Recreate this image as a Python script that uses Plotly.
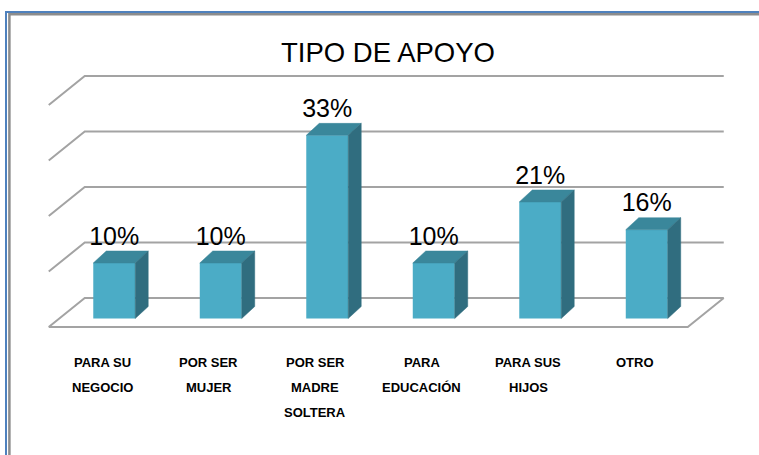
import plotly.graph_objects as go

# ---------------- data ----------------
category_lines = [
    ["PARA SU", "NEGOCIO"],
    ["POR SER", "MUJER"],
    ["POR SER", "MADRE", "SOLTERA"],
    ["PARA", "EDUCACIÓN"],
    ["PARA SUS", "HIJOS"],
    ["OTRO"],
]
values = [10, 10, 33, 10, 21, 16]
value_labels = ["10%", "10%", "33%", "10%", "21%", "16%"]
grid_ticks = [0, 10, 20, 30, 40]
title_text = "TIPO DE APOYO"

# ---------------- geometry / style ----------------
W, H = 759, 455
PX_CAT = 106.5          # pixels per category
PX_PCT = 5.55           # pixels per percent
X_ORIGIN_PX = 102       # pixel x of category 0 (floor front)
Y_ORIGIN_PX = 318.5     # pixel y of value 0 (bar front plane)

FLOOR_V = -1.53         # floor front edge (value units)
WALL_DX = 0.338         # depth of the 3D box (category units)
WALL_DV = 5.22          # depth of the 3D box (value units)
N = len(values)

BAR_SHIFT = 0.115       # bar front face shift from floor front
BAR_W = 0.394
BAR_DX = 0.122          # bar depth (category units)
BAR_DV = 2.16           # bar depth (value units)

FRONT = "#4BACC6"
TOP = "#3A879B"
SIDE = "#306D7F"
GRID = "#a3a3a3"
FONT = "Liberation Sans, Arial, sans-serif"

x_range = [(0 - X_ORIGIN_PX) / PX_CAT, (W - X_ORIGIN_PX) / PX_CAT]
y_range = [(Y_ORIGIN_PX - H) / PX_PCT, (Y_ORIGIN_PX - 0) / PX_PCT]

fig = go.Figure()

# ---------------- walls / floor (shapes below data) ----------------
shapes = []
left = -0.5
right = N - 0.5
for t in grid_ticks:
    y_front = t + FLOOR_V
    y_back = y_front + WALL_DV
    path = (f"M {left},{y_front} L {left + WALL_DX},{y_back} "
            f"L {right + WALL_DX},{y_back}")
    shapes.append(dict(type="path", path=path, xref="x", yref="y", layer="below",
                       line=dict(color=GRID, width=2)))
# floor front edge and right edge
floor_path = (f"M {left},{FLOOR_V} L {right},{FLOOR_V} "
              f"L {right + WALL_DX},{FLOOR_V + WALL_DV}")
shapes.append(dict(type="path", path=floor_path, xref="x", yref="y", layer="below",
                   line=dict(color=GRID, width=2)))

# frame around the chart
shapes.append(dict(type="path", xref="paper", yref="paper",
                   path=f"M {6/W},-0.2 L {6/W},{1-12/H} L 1.2,{1-12/H}",
                   line=dict(color="#4F81BD", width=2)))
shapes.append(dict(type="path", xref="paper", yref="paper",
                   path=f"M {9.4/W},-0.2 L {9.4/W},{1-14.3/H} L 1.2,{1-14.3/H}",
                   line=dict(color="#8C8C8C", width=2.5)))

# ---------------- bars ----------------
xs = [i + BAR_SHIFT for i in range(N)]
fig.add_trace(go.Bar(x=xs, y=values, width=BAR_W, base=0,
                     marker=dict(color=FRONT, line=dict(width=0)),
                     hoverinfo="skip"))

top_x, top_y, side_x, side_y = [], [], [], []
for x, v in zip(xs, values):
    x0, x1 = x - BAR_W / 2, x + BAR_W / 2
    top_x += [x0, x1, x1 + BAR_DX, x0 + BAR_DX, x0, None]
    top_y += [v, v, v + BAR_DV, v + BAR_DV, v, None]
    side_x += [x1, x1 + BAR_DX, x1 + BAR_DX, x1, x1, None]
    side_y += [0, BAR_DV, v + BAR_DV, v, 0, None]

fig.add_trace(go.Scatter(x=top_x, y=top_y, mode="lines", fill="toself",
                         fillcolor=TOP, line=dict(color=TOP, width=0.5),
                         hoverinfo="skip"))
fig.add_trace(go.Scatter(x=side_x, y=side_y, mode="lines", fill="toself",
                         fillcolor=SIDE, line=dict(color=SIDE, width=0.5),
                         hoverinfo="skip"))

# value labels
fig.add_trace(go.Scatter(x=xs, y=[v + BAR_DV for v in values], mode="text",
                         text=value_labels, textposition="top center",
                         textfont=dict(family=FONT, size=25, color="black"),
                         hoverinfo="skip"))

# ---------------- annotations ----------------
annotations = [dict(text=title_text, xref="paper", yref="paper",
                    x=388 / W, y=1 - 52.5 / H, xanchor="center", yanchor="middle",
                    showarrow=False, font=dict(family=FONT, size=27.5, color="black"))]
for i, lines in enumerate(category_lines):
    for k, line in enumerate(lines):
        annotations.append(dict(text=f"<b>{line}</b>", x=i, y=FLOOR_V, xref="x", yref="y",
                                xanchor="center", yanchor="middle",
                                yshift=-(36 + 25 * k), showarrow=False,
                                font=dict(family=FONT, size=13, color="black")))

fig.update_layout(
    width=W, height=H,
    margin=dict(l=0, r=0, t=0, b=0),
    paper_bgcolor="white", plot_bgcolor="white",
    showlegend=False,
    hovermode=False,
    xaxis=dict(range=x_range, visible=False, fixedrange=True),
    yaxis=dict(range=y_range, visible=False, fixedrange=True),
    shapes=shapes,
    annotations=annotations,
)

fig.write_html("out.html",
               config={"displayModeBar": False, "staticPlot": True},
               post_script="document.body.style.margin='0';document.body.style.overflow='hidden';")
